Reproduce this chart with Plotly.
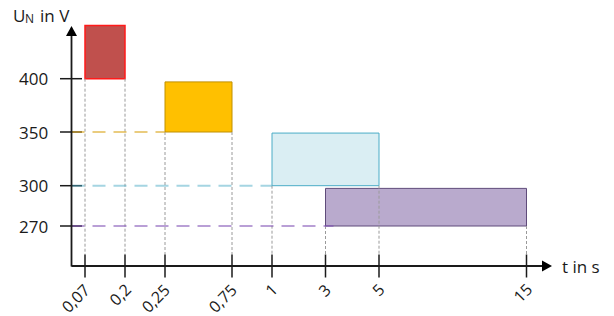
import plotly.graph_objects as go
import numpy as np

# ---------------- data ----------------
t_ticks = [0.07, 0.2, 0.25, 0.75, 1, 3, 5, 15]
t_labels = ["0,07", "0,2", "0,25", "0,75", "1", "3", "5", "15"]
u_ticks = [270, 300, 350, 400]
u_labels = ["270", "300", "350", "400"]

band_t_start = [0.07, 0.25, 1, 3]
band_t_end = [0.2, 0.75, 5, 15]
band_u_low = [400, 350, 300, 270]
band_u_high = [450, 397, 349, 298]

# ---------------- styles / schematic axis layout ----------------
band_fill = ["#C0504D", "#FFC000", "#DAEEF3", "#B9AACD"]
band_line = ["#FF1A1A", "#C09000", "#4BACC6", "#5F4B7A"]
band_lw = [1.5, 1, 1, 1]
guide_color = [None, "rgba(220,170,40,0.6)", "rgba(75,172,198,0.5)", "rgba(128,80,180,0.55)"]

# schematic (non-proportional) axis: tick value -> screen position
X_POS = [85, 125, 165, 232, 272, 325.5, 379, 526.5]
Y_POS = [226, 185.7, 132, 78.7]
X0, Y0 = 71.5, 266.5          # axis origin
X_END, Y_END = 552, 26         # arrow tips

def sx(t):
    return float(np.interp(t, t_ticks, X_POS))

def sy(u):
    if u > u_ticks[-1]:
        slope = (Y_POS[-1] - Y_POS[-2]) / (u_ticks[-1] - u_ticks[-2])
        return Y_POS[-1] + (u - u_ticks[-1]) * slope
    return float(np.interp(u, u_ticks, Y_POS))

FONT = "Open Sans, Noto Sans, sans-serif"
shapes = []
annotations = []

# boxes
for i in range(len(band_t_start)):
    shapes.append(dict(type="rect", xref="x", yref="y",
                       x0=sx(band_t_start[i]), x1=sx(band_t_end[i]),
                       y0=sy(band_u_low[i]), y1=sy(band_u_high[i]),
                       fillcolor=band_fill[i],
                       line=dict(color=band_line[i], width=band_lw[i]), layer="above"))

# vertical dotted guides from band bottoms to axis
for i in range(len(band_t_start)):
    for t in (band_t_start[i], band_t_end[i]):
        shapes.append(dict(type="line", xref="x", yref="y",
                           x0=sx(t), x1=sx(t), y0=sy(band_u_low[i]), y1=Y0 - 12,
                           line=dict(color="#9A9A9A", width=1, dash="3px,2px"), layer="above"))

# y ticks
for u in u_ticks:
    shapes.append(dict(type="line", xref="x", yref="y", x0=X0 - 11.5, x1=X0 + 10.5,
                       y0=sy(u), y1=sy(u), line=dict(color="#1a1a1a", width=1.5), layer="above"))
# x ticks
for t in t_ticks:
    shapes.append(dict(type="line", xref="x", yref="y", x0=sx(t), x1=sx(t),
                       y0=Y0 - 12, y1=Y0 + 11, line=dict(color="#1a1a1a", width=1.5), layer="above"))

# horizontal dashed guides from axis to band start
for i in range(len(band_t_start)):
    if guide_color[i] is None:
        continue
    shapes.append(dict(type="line", xref="x", yref="y", x0=X0, x1=sx(band_t_start[i]) + (8 if i == 3 else 0),
                       y0=sy(band_u_low[i]), y1=sy(band_u_low[i]),
                       line=dict(color=guide_color[i], width=2, dash="13px,8px"), layer="above"))

# axes with arrows
shapes.append(dict(type="line", xref="x", yref="y", x0=X0, x1=X0, y0=Y0, y1=Y_END + 10,
                   line=dict(color="#1a1a1a", width=1.8), layer="above"))
shapes.append(dict(type="line", xref="x", yref="y", x0=X0, x1=X_END - 10, y0=Y0 - 0.5, y1=Y0 - 0.5,
                   line=dict(color="#1a1a1a", width=1.8), layer="above"))
shapes.append(dict(type="path", xref="x", yref="y",
                   path=f"M {X0-5.5},{Y_END+10} L {X0+5.5},{Y_END+10} L {X0},{Y_END} Z",
                   fillcolor="#000", line=dict(width=0), layer="above"))
shapes.append(dict(type="path", xref="x", yref="y",
                   path=f"M {X_END-10},{Y0-6} L {X_END-10},{Y0+5} L {X_END},{Y0-0.5} Z",
                   fillcolor="#000", line=dict(width=0), layer="above"))

# tick labels
for u, lab in zip(u_ticks, u_labels):
    annotations.append(dict(x=50, y=sy(u), xref="x", yref="y", text=lab, showarrow=False,
                            xanchor="right", yanchor="middle",
                            font=dict(family=FONT, size=17, color="#1a1a1a")))
for t, lab in zip(t_ticks, t_labels):
    annotations.append(dict(x=sx(t) + 13, y=Y0 + 10, xref="x", yref="y", text=lab, showarrow=False,
                            xanchor="right", yanchor="top", textangle=-45,
                            font=dict(family=FONT, size=16, color="#1a1a1a")))

# axis titles
annotations.append(dict(x=11, y=15, xref="x", yref="y", text="U", showarrow=False,
                        xanchor="left", yanchor="middle", font=dict(family=FONT, size=17, color="#1a1a1a")))
annotations.append(dict(x=23, y=18, xref="x", yref="y", text="N", showarrow=False,
                        xanchor="left", yanchor="middle", font=dict(family=FONT, size=12, color="#1a1a1a")))
annotations.append(dict(x=38, y=15, xref="x", yref="y", text="in V", showarrow=False,
                        xanchor="left", yanchor="middle", font=dict(family=FONT, size=17, color="#1a1a1a")))
annotations.append(dict(x=560, y=Y0, xref="x", yref="y", text="t in s", showarrow=False,
                        xanchor="left", yanchor="middle", font=dict(family=FONT, size=17, color="#1a1a1a")))

fig = go.Figure()
fig.add_trace(go.Scatter(x=[0], y=[0], mode="markers", marker=dict(opacity=0), hoverinfo="skip",
                         showlegend=False))
fig.update_layout(
    width=614, height=316,
    margin=dict(l=0, r=0, t=0, b=0),
    paper_bgcolor="white", plot_bgcolor="white",
    xaxis=dict(range=[0, 614], visible=False, fixedrange=True),
    yaxis=dict(range=[316, 0], visible=False, fixedrange=True),
    shapes=shapes, annotations=annotations, showlegend=False,
)
fig.write_html("out.html", config=dict(displayModeBar=False),
               post_script="document.body.style.margin='0';document.body.style.overflow='hidden';")
